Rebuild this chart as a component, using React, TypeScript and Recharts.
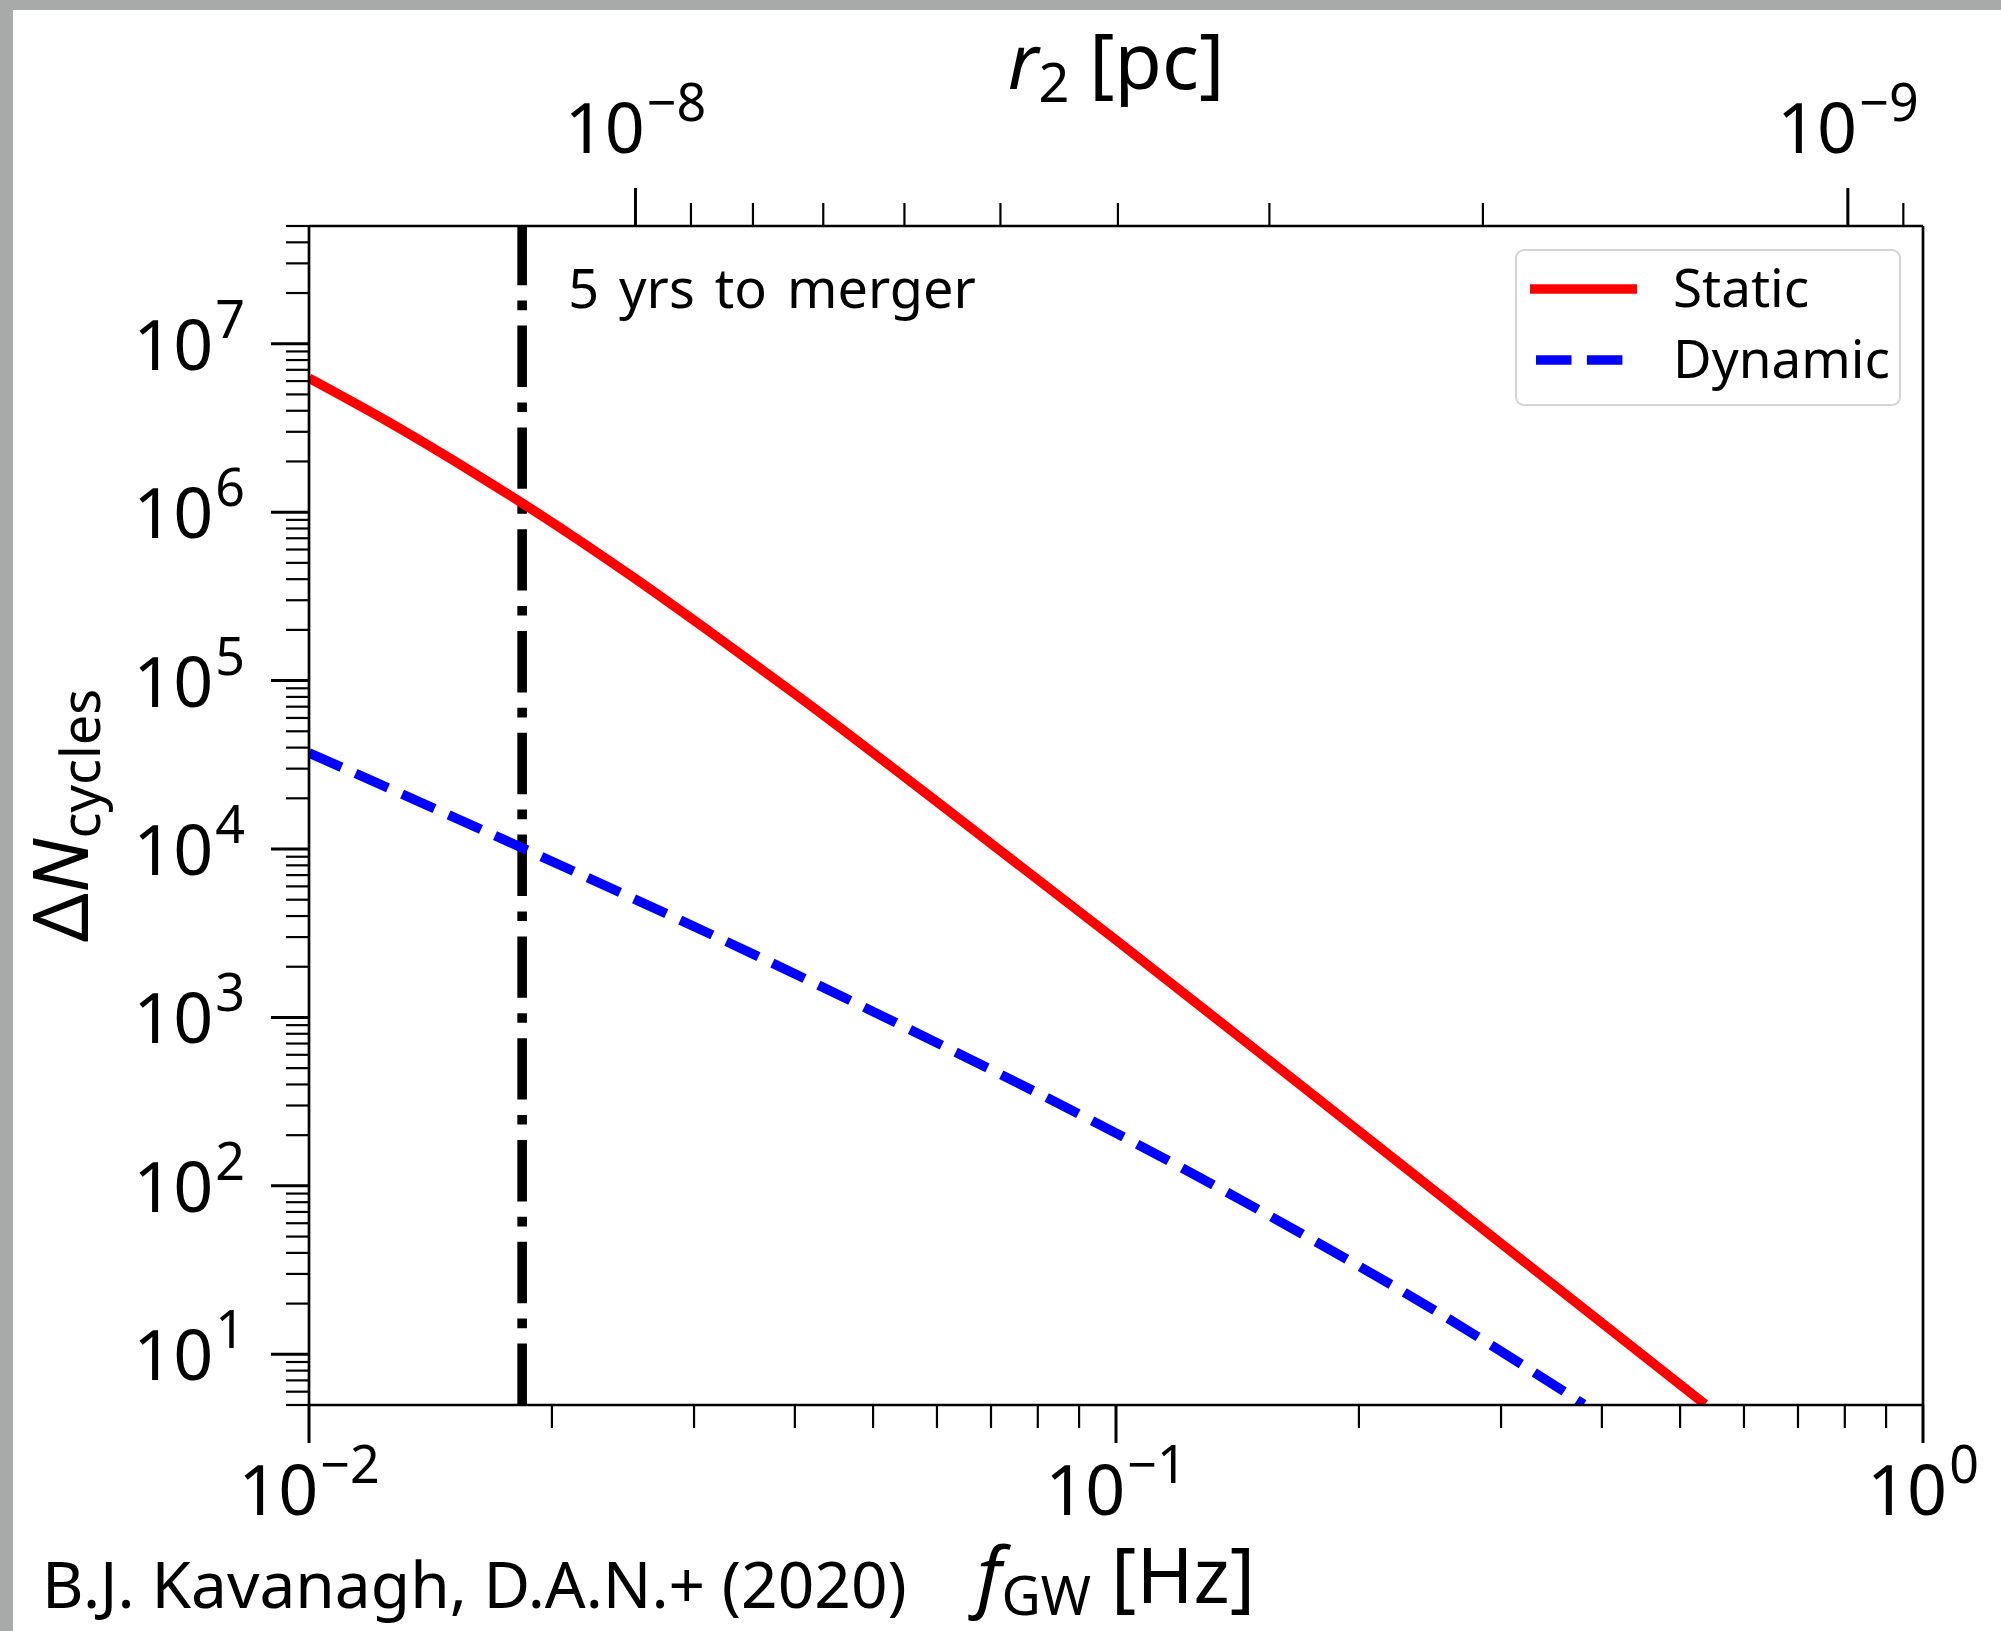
import React from 'react';
import { LineChart, Line, XAxis, YAxis, ReferenceLine, Legend } from 'recharts';

const FONT = "'Noto Sans', 'DejaVu Sans', sans-serif";

// f_GW [Hz] and Delta N_cycles
const staticFreq = [0.01, 0.01259, 0.01585, 0.01837, 0.02512, 0.03162, 0.04055, 0.0631, 0.1, 0.169, 0.2992, 0.537];
const staticCycles = [6.25e6, 3.4e6, 1.76e6, 1.132e6, 4.16e5, 1.9e5, 7.96e4, 1.585e4, 2.88e3, 400, 46, 5.05];

const dynamicFreq = [0.01, 0.01837, 0.0418, 0.0617, 0.0911, 0.134, 0.169, 0.247, 0.38];
const dynamicCycles = [3.72e4, 1.016e4, 1.64e3, 661, 259, 97.5, 52.7, 18.5, 5.05];

const seriesOrder = ['Static', 'Dynamic'];

// 5 yrs to merger
const mergerFreq = 0.01837;

// axis ranges
const freqDomain = [0.01, 1];
const cyclesDomain = [5, 5e7];
const radiusDomain = [8.67e-10, 1.859e-8]; // r_2 [pc] at f = 1 and f = 0.01

const mantissas = [1, 2, 3, 4, 5, 6, 7, 8, 9];

const logTicks = (lo: number, hi: number) => {
    const out: number[] = [];
    for (let e = Math.floor(Math.log10(lo)); e <= Math.ceil(Math.log10(hi)); e++) {
        for (const m of mantissas) {
            const v = m * Math.pow(10, e);
            if (v >= lo * 0.9999 && v <= hi * 1.0001) out.push(v);
        }
    }
    return out;
};

const freqTicks = logTicks(freqDomain[0], freqDomain[1]);
const cyclesTicks = logTicks(cyclesDomain[0], cyclesDomain[1]);
const radiusTicks = logTicks(radiusDomain[0], radiusDomain[1]);

const staticData = staticFreq.map((f, i) => ({ f, n: staticCycles[i] }));
const dynamicData = dynamicFreq.map((f, i) => ({ f, n: dynamicCycles[i] }));
// invisible anchor so the r_2 axis gets its scale
const radiusAnchor = radiusDomain.map((r) => ({ r, n: cyclesDomain[0] }));

const MAJOR = 38;
const MINOR = 23;
const AXIS = { stroke: '#000', strokeWidth: 2.7 };
const LW = 9.6;

const isDecade = (v: number) => Math.abs(Math.log10(v) - Math.round(Math.log10(v))) < 1e-6;
const expText = (v: number) => {
    const e = Math.round(Math.log10(v));
    return e < 0 ? `\u2212${-e}` : `${e}`;
};

const TickLabel = ({ x, y, anchor, v }: any) => (
    <text x={x} y={y} textAnchor={anchor} fontSize={70} fontFamily={FONT} fill="#000">
        10<tspan dx={2} dy={-32} fontSize={52}>{expText(v)}</tspan>
    </text>
);

const LeftTick = (props: any) => {
    const { x, y, payload } = props;
    const major = isDecade(payload.value);
    return (
        <g>
            <line x1={x - (major ? MAJOR : MINOR)} x2={x} y1={y} y2={y} stroke="#000" strokeWidth={major ? 3 : 2.2} />
            {major && <TickLabel x={x - 64} y={y + 26} anchor="end" v={payload.value} />}
        </g>
    );
};

const BottomTick = (props: any) => {
    const { x, y, payload } = props;
    const major = isDecade(payload.value);
    return (
        <g>
            <line x1={x} x2={x} y1={y} y2={y + (major ? MAJOR : MINOR)} stroke="#000" strokeWidth={major ? 3 : 2.2} />
            {major && <TickLabel x={x} y={y + 110} anchor="middle" v={payload.value} />}
        </g>
    );
};

const TopTick = (props: any) => {
    const { x, y, payload } = props;
    const major = isDecade(payload.value);
    return (
        <g>
            <line x1={x} x2={x} y1={y - (major ? MAJOR : MINOR)} y2={y} stroke="#000" strokeWidth={major ? 3 : 2.2} />
            {major && <TickLabel x={x} y={y - 73} anchor="middle" v={payload.value} />}
        </g>
    );
};

const BottomTitle = (props: any) => {
    const vb = props.viewBox;
    const cx = vb.x + vb.width / 2;
    return (
        <g fontFamily={FONT} fill="#000">
            <text x={cx} y={vb.y + 198} textAnchor="middle" fontSize={77}>
                <tspan fontStyle="italic">f</tspan>
                <tspan dy={12} fontSize={54}>GW</tspan>
                <tspan dy={-12}> [Hz]</tspan>
            </text>
            <text x={42} y={vb.y + 203} fontSize={64}>B.J. Kavanagh, D.A.N.+ (2020)</text>
        </g>
    );
};

const TopTitle = (props: any) => {
    const vb = props.viewBox;
    const cx = vb.x + vb.width / 2;
    return (
        <text x={cx} y={vb.y + 89} textAnchor="middle" fontSize={77} fontFamily={FONT} fill="#000">
            <tspan fontStyle="italic">r</tspan>
            <tspan dy={13} fontSize={54}>2</tspan>
            <tspan dy={-13}> [pc]</tspan>
        </text>
    );
};

const LeftTitle = (props: any) => {
    const vb = props.viewBox;
    const cx = 88;
    const cy = vb.y + vb.height / 2;
    return (
        <text x={cx} y={cy} transform={`rotate(-90, ${cx}, ${cy})`} textAnchor="middle" fontSize={77} fontFamily={FONT} fill="#000">
            {'\u0394'}<tspan fontStyle="italic">N</tspan>
            <tspan dy={12} fontSize={54}>cycles</tspan>
        </text>
    );
};

const MergerLabel = (props: any) => {
    const vb = props.viewBox;
    return (
        <text x={vb.x + 46} y={vb.y + 82} fontSize={54} fontFamily={FONT} fill="#000" style={{ wordSpacing: 6 }}>
            5 yrs to merger
        </text>
    );
};

const LegendBox = (props: any) => {
    const items = (props.payload ?? [])
        .filter((it: any) => seriesOrder.includes(it.value))
        .sort((a: any, b: any) => seriesOrder.indexOf(a.value) - seriesOrder.indexOf(b.value));
    return (
        <svg width={386} height={157} style={{ display: 'block', overflow: 'visible' }}>
            <rect x={1} y={1} width={384} height={155} rx={8} fill="#fff" fillOpacity={0.8} stroke="#d4d4d4" strokeWidth={2} />
            {items.map((it: any, i: number) => {
                const cy = 40 + i * 71;
                const dash = it.payload?.strokeDasharray;
                return (
                    <g key={it.value}>
                        <line x1={dash ? 21 : 15} x2={dash ? 108 : 122} y1={cy} y2={cy} stroke={it.color} strokeWidth={LW} strokeDasharray={dash} />
                        <text x={158} y={cy + 18} fontSize={53} fontFamily={FONT} fill="#000">{it.value}</text>
                    </g>
                );
            })}
        </svg>
    );
};

export default function App() {
    return (
        <div style={{ position: 'absolute', left: 0, top: 0, width: 2001, height: 1631, background: '#a7aaa9', overflow: 'hidden' }}>
            <div style={{ position: 'absolute', left: 13, top: 10, right: 0, bottom: 0, background: '#fff' }} />
            <div style={{ position: 'absolute', left: 0, top: 0 }}>
                <LineChart width={2001} height={1631} margin={{ top: 0, right: 77, bottom: 0, left: 0 }}>
                    {/* f_GW axis */}
                    <XAxis
                        xAxisId="bottom"
                        orientation="bottom"
                        type="number"
                        dataKey="f"
                        scale="log"
                        domain={freqDomain}
                        allowDataOverflow
                        ticks={freqTicks}
                        interval={0}
                        tick={(p: any) => <BottomTick {...p} />}
                        tickLine={false}
                        tickSize={0}
                        tickMargin={0}
                        height={226}
                        axisLine={AXIS}
                        label={{ content: (p: any) => <BottomTitle {...p} /> }}
                    />

                    {/* r_2 axis, decreasing to the right */}
                    <XAxis
                        xAxisId="top"
                        orientation="top"
                        type="number"
                        dataKey="r"
                        scale="log"
                        reversed
                        domain={radiusDomain}
                        allowDataOverflow
                        ticks={radiusTicks}
                        interval={0}
                        tick={(p: any) => <TopTick {...p} />}
                        tickLine={false}
                        tickSize={0}
                        tickMargin={0}
                        height={226}
                        axisLine={AXIS}
                        label={{ content: (p: any) => <TopTitle {...p} /> }}
                    />

                    <YAxis
                        yAxisId="left"
                        type="number"
                        scale="log"
                        domain={cyclesDomain}
                        allowDataOverflow
                        ticks={cyclesTicks}
                        interval={0}
                        tick={(p: any) => <LeftTick {...p} />}
                        tickLine={false}
                        tickSize={0}
                        tickMargin={0}
                        width={309}
                        axisLine={AXIS}
                        label={{ content: (p: any) => <LeftTitle {...p} /> }}
                    />

                    {/* right spine */}
                    <YAxis
                        yAxisId="right"
                        orientation="right"
                        type="number"
                        scale="log"
                        domain={cyclesDomain}
                        allowDataOverflow
                        tick={false}
                        tickLine={false}
                        width={1}
                        axisLine={AXIS}
                    />

                    <ReferenceLine
                        xAxisId="bottom"
                        yAxisId="left"
                        x={mergerFreq}
                        stroke="#000"
                        strokeWidth={LW}
                        strokeDasharray="61.4 15.4 9.6 15.4"
                        label={{ content: (p: any) => <MergerLabel {...p} /> }}
                    />

                    <Line
                        xAxisId="top"
                        yAxisId="left"
                        data={radiusAnchor}
                        dataKey="n"
                        name="r2"
                        stroke="none"
                        legendType="none"
                        dot={false}
                        activeDot={false}
                        isAnimationActive={false}
                    />

                    <Line
                        xAxisId="bottom"
                        yAxisId="left"
                        data={staticData}
                        dataKey="n"
                        name="Static"
                        type="monotone"
                        stroke="#ff0000"
                        strokeWidth={LW}
                        dot={false}
                        activeDot={false}
                        isAnimationActive={false}
                    />
                    <Line
                        xAxisId="bottom"
                        yAxisId="left"
                        data={dynamicData}
                        dataKey="n"
                        name="Dynamic"
                        type="monotone"
                        stroke="#0000ff"
                        strokeWidth={LW}
                        strokeDasharray="35.5 15.4"
                        dot={false}
                        activeDot={false}
                        isAnimationActive={false}
                    />

                    <Legend
                        layout="vertical"
                        align="center"
                        verticalAlign="middle"
                        width={386}
                        height={157}
                        wrapperStyle={{ left: 1515, top: 249, width: 386, height: 157 }}
                        content={(p: any) => <LegendBox {...p} />}
                    />
                </LineChart>
            </div>
        </div>
    );
}
